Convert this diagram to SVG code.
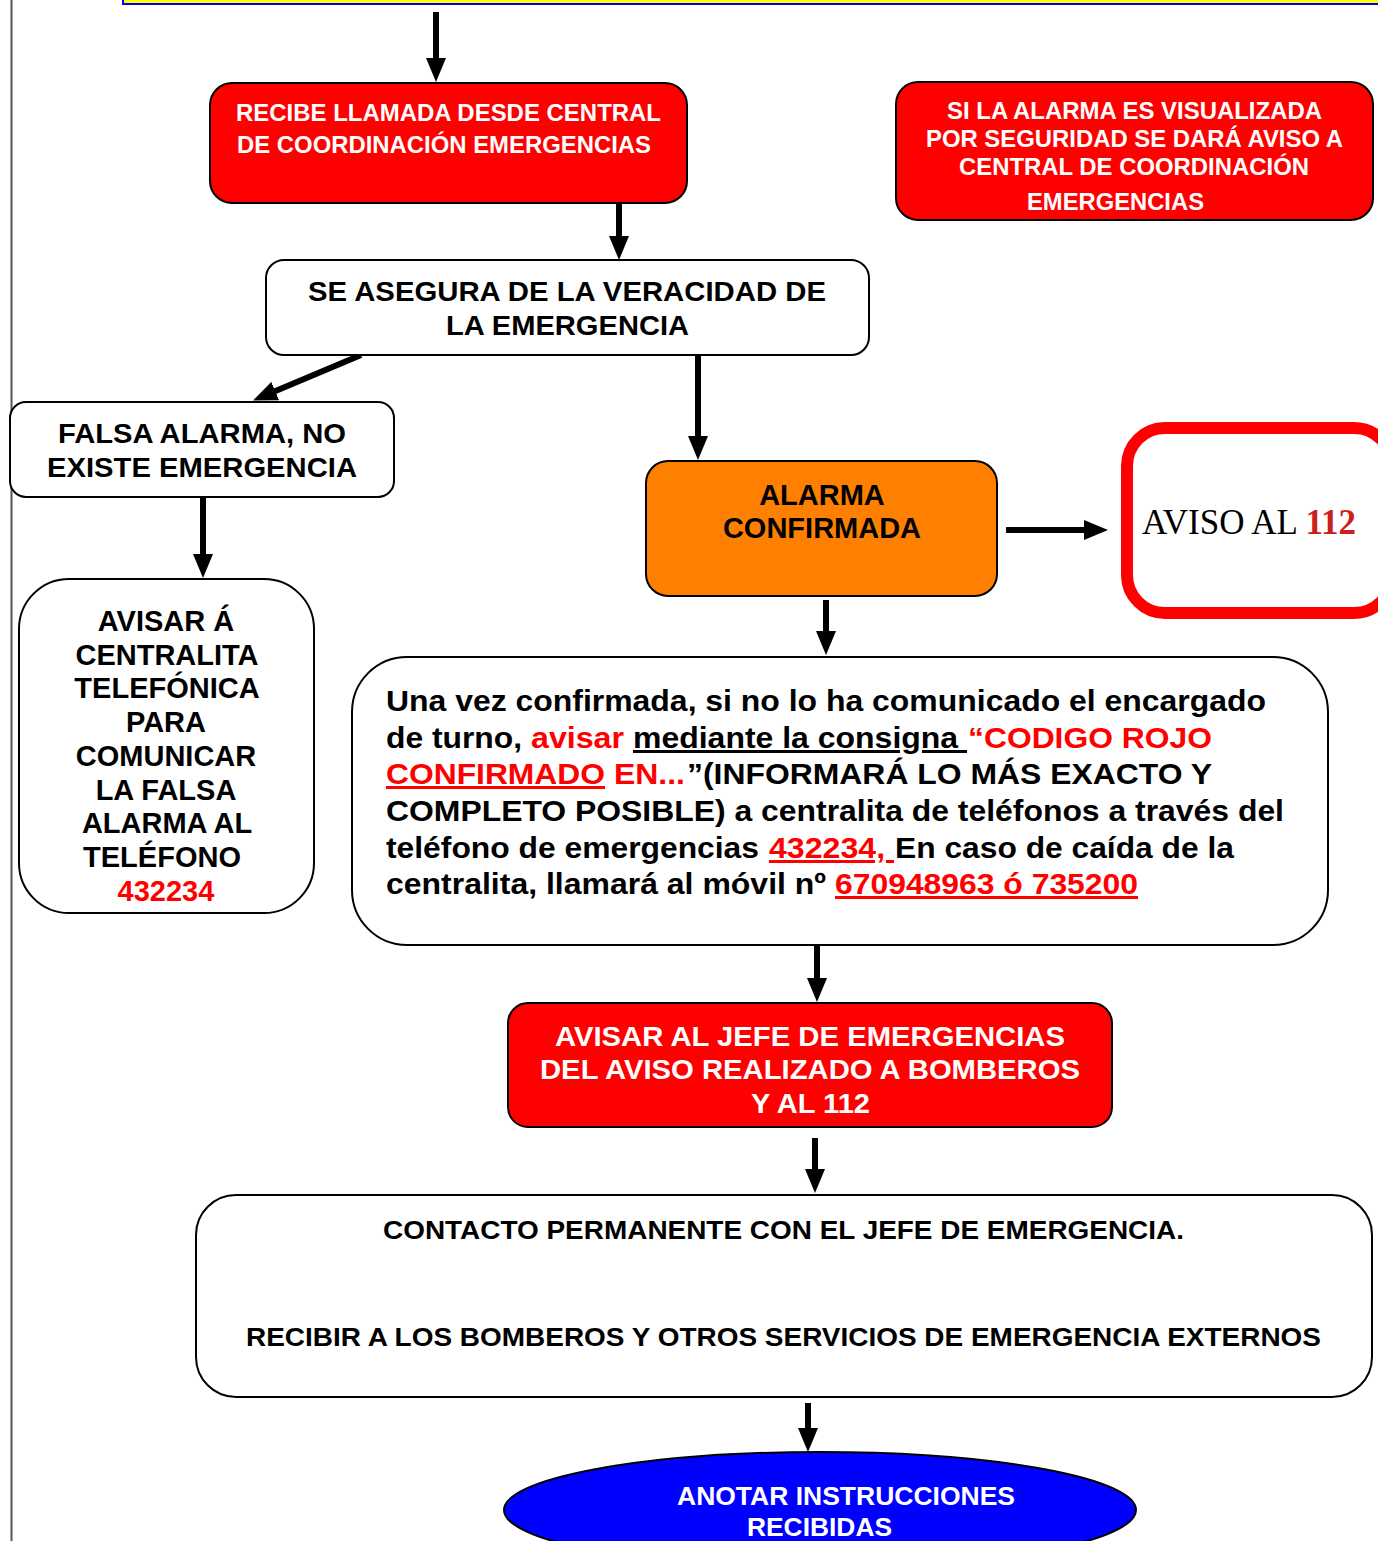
<svg xmlns="http://www.w3.org/2000/svg" width="1378" height="1541" viewBox="0 0 1378 1541">
<style>
.n{stroke:#000;stroke-width:2}
.red{fill:#FF0000}
.wht{fill:#fff}
.org{fill:#FF8000}
.t{font-family:"Liberation Sans",Arial,sans-serif;font-weight:bold}
.tw{fill:#fff}
.tb{fill:#000}
.tr{fill:#FF0000}
.u{text-decoration:underline}
.c{stroke:#000;stroke-width:6;fill:none}
</style>
<defs>
<marker id="ah" viewBox="0 0 24 20" refX="10" refY="10" markerWidth="24" markerHeight="20" markerUnits="userSpaceOnUse" orient="auto">
<path d="M0,0 L24,10 L0,20 z" fill="#000"/>
</marker>
</defs>
<rect width="1378" height="1541" fill="#fff"/>
<line x1="11.5" y1="0" x2="11.5" y2="1541" stroke="#555" stroke-width="2"/>
<rect x="123" y="-10" width="1270" height="14" fill="#FFFF00" stroke="#0000FF" stroke-width="2"/>

<g id="connectors">
<path class="c" marker-end="url(#ah)" d="M436,12 V68"/>
<path class="c" marker-end="url(#ah)" d="M619,203 V246"/>
<path class="c" marker-end="url(#ah)" d="M361,355 L266,395"/>
<path class="c" marker-end="url(#ah)" d="M203,497 V564"/>
<path class="c" marker-end="url(#ah)" d="M698,355 V446"/>
<path class="c" marker-end="url(#ah)" d="M1006,530 H1094"/>
<path class="c" marker-end="url(#ah)" d="M826,600 V641"/>
<path class="c" marker-end="url(#ah)" d="M817,945 V988"/>
<path class="c" marker-end="url(#ah)" d="M815,1138 V1179"/>
<path class="c" marker-end="url(#ah)" d="M808,1403 V1438"/>
</g>

<g id="recibe">
<rect class="n red" x="210" y="83" width="477" height="120" rx="22"/>
<text class="t tw" font-size="24" x="236" y="121" textLength="425" lengthAdjust="spacingAndGlyphs">RECIBE LLAMADA DESDE CENTRAL</text>
<text class="t tw" font-size="24" x="237" y="153" textLength="414" lengthAdjust="spacingAndGlyphs">DE COORDINACIÓN EMERGENCIAS</text>
</g>

<g id="si-alarma">
<rect class="n red" x="896" y="82" width="477" height="138" rx="22"/>
<text class="t tw" font-size="23" x="947" y="119" textLength="375" lengthAdjust="spacingAndGlyphs">SI LA ALARMA ES VISUALIZADA</text>
<text class="t tw" font-size="23" x="926" y="147" textLength="417" lengthAdjust="spacingAndGlyphs">POR SEGURIDAD SE DARÁ AVISO A</text>
<text class="t tw" font-size="23" x="959" y="175" textLength="350" lengthAdjust="spacingAndGlyphs">CENTRAL DE COORDINACIÓN</text>
<text class="t tw" font-size="23" x="1027" y="210" textLength="177" lengthAdjust="spacingAndGlyphs">EMERGENCIAS</text>
</g>

<g id="asegura">
<rect class="n wht" x="266" y="260" width="603" height="95" rx="18"/>
<text class="t tb" font-size="28" x="308" y="301" textLength="518" lengthAdjust="spacingAndGlyphs">SE ASEGURA DE LA VERACIDAD DE</text>
<text class="t tb" font-size="28" x="446" y="335" textLength="243" lengthAdjust="spacingAndGlyphs">LA EMERGENCIA</text>
</g>

<g id="falsa">
<rect class="n wht" x="10" y="402" width="384" height="95" rx="16"/>
<text class="t tb" font-size="28" x="58" y="443" textLength="288" lengthAdjust="spacingAndGlyphs">FALSA ALARMA, NO</text>
<text class="t tb" font-size="28" x="47" y="477" textLength="310" lengthAdjust="spacingAndGlyphs">EXISTE EMERGENCIA</text>
</g>

<g id="avisar-centralita">
<rect class="n wht" x="19" y="579" width="295" height="334" rx="50"/>
<g class="t tb" font-size="29" text-anchor="middle">
<text x="166" y="631">AVISAR Á</text>
<text x="167" y="665">CENTRALITA</text>
<text x="167" y="698">TELEFÓNICA</text>
<text x="166" y="732">PARA</text>
<text x="166" y="766">COMUNICAR</text>
<text x="166" y="800">LA FALSA</text>
<text x="167" y="833">ALARMA AL</text>
<text x="162" y="867">TELÉFONO</text>
<text x="166" y="901" class="tr">432234</text>
</g>
</g>

<g id="confirmada">
<rect class="n org" x="646" y="461" width="351" height="135" rx="22"/>
<text class="t tb" font-size="29" x="822" y="505" text-anchor="middle">ALARMA</text>
<text class="t tb" font-size="29" x="822" y="538" text-anchor="middle">CONFIRMADA</text>
</g>

<g id="aviso112">
<rect x="1127" y="428" width="265" height="185" rx="38" fill="#fff" stroke="#FF0000" stroke-width="12"/>
<text font-family="'Liberation Serif','Times New Roman',serif" font-size="35" x="1142" y="534" fill="#000">AVISO AL <tspan font-weight="bold" fill="#C9211E">112</tspan></text>
</g>

<g id="una-vez">
<rect class="n wht" x="352" y="657" width="976" height="288" rx="55"/>
<g class="t" font-size="30">
<text class="tb" x="386" y="711" textLength="880" lengthAdjust="spacingAndGlyphs">Una vez confirmada, si no lo ha comunicado el encargado</text>
<text class="tb" x="386" y="748" textLength="136" lengthAdjust="spacingAndGlyphs">de turno,</text>
<text class="tr" x="531" y="748" textLength="93" lengthAdjust="spacingAndGlyphs">avisar</text>
<text class="tb u" x="633" y="748" textLength="334" lengthAdjust="spacingAndGlyphs" xml:space="preserve">mediante la consigna </text>
<text class="tr" x="968" y="748" textLength="244" lengthAdjust="spacingAndGlyphs">“CODIGO ROJO</text>
<text class="tr u" x="386" y="784" textLength="219" lengthAdjust="spacingAndGlyphs">CONFIRMADO</text>
<text class="tr" x="614" y="784" textLength="71" lengthAdjust="spacingAndGlyphs">EN...</text>
<text class="tb" x="687" y="784" textLength="525" lengthAdjust="spacingAndGlyphs">”(INFORMARÁ LO MÁS EXACTO Y</text>
<text class="tb" x="386" y="821" textLength="898" lengthAdjust="spacingAndGlyphs">COMPLETO POSIBLE) a centralita de teléfonos a través del</text>
<text class="tb" x="386" y="858" textLength="373" lengthAdjust="spacingAndGlyphs">teléfono de emergencias</text>
<text class="tr u" x="769" y="858" textLength="125" lengthAdjust="spacingAndGlyphs" xml:space="preserve">432234, </text>
<text class="tb" x="895" y="858" textLength="339" lengthAdjust="spacingAndGlyphs">En caso de caída de la</text>
<text class="tb" x="386" y="894" textLength="440" lengthAdjust="spacingAndGlyphs">centralita, llamará al móvil nº</text>
<text class="tr u" x="835" y="894" textLength="303" lengthAdjust="spacingAndGlyphs">670948963 ó 735200</text>
</g>
</g>

<g id="jefe">
<rect class="n red" x="508" y="1003" width="604" height="124" rx="20"/>
<text class="t tw" font-size="28" x="555" y="1046" textLength="510" lengthAdjust="spacingAndGlyphs">AVISAR AL JEFE DE EMERGENCIAS</text>
<text class="t tw" font-size="28" x="540" y="1079" textLength="540" lengthAdjust="spacingAndGlyphs">DEL AVISO REALIZADO A BOMBEROS</text>
<text class="t tw" font-size="28" x="751" y="1113" textLength="119" lengthAdjust="spacingAndGlyphs">Y AL 112</text>
</g>

<g id="contacto">
<rect class="n wht" x="196" y="1195" width="1176" height="202" rx="40"/>
<text class="t tb" font-size="25" x="383" y="1239" textLength="801" lengthAdjust="spacingAndGlyphs">CONTACTO PERMANENTE CON EL JEFE DE EMERGENCIA.</text>
<text class="t tb" font-size="25" x="246" y="1346" textLength="1075" lengthAdjust="spacingAndGlyphs">RECIBIR A LOS BOMBEROS Y OTROS SERVICIOS DE EMERGENCIA EXTERNOS</text>
</g>

<g id="anotar">
<ellipse class="n" cx="820" cy="1510" rx="316" ry="58" fill="#0000FF"/>
<text class="t tw" font-size="26" x="677" y="1505" textLength="338" lengthAdjust="spacingAndGlyphs">ANOTAR INSTRUCCIONES</text>
<text class="t tw" font-size="26" x="747" y="1536" textLength="145" lengthAdjust="spacingAndGlyphs">RECIBIDAS</text>
</g>
</svg>
